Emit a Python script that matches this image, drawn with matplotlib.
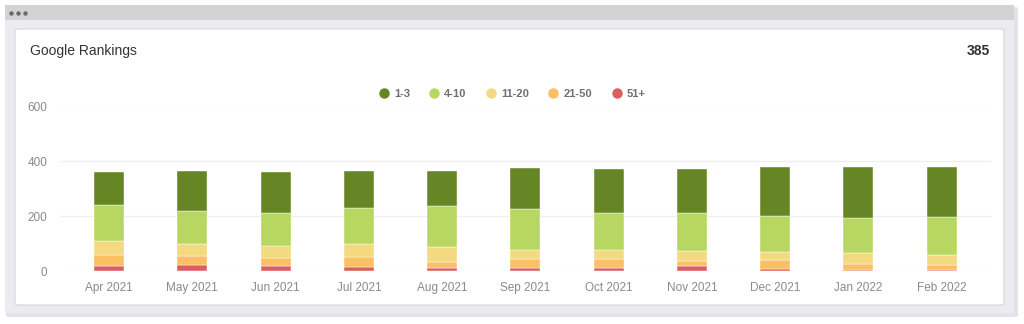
import matplotlib.pyplot as plt
from matplotlib.patches import FancyBboxPatch, Rectangle
from matplotlib.lines import Line2D
import numpy as np

# dados
meses = ['Apr 2021', 'May 2021', 'Jun 2021', 'Jul 2021', 'Aug 2021', 'Sep 2021',
         'Oct 2021', 'Nov 2021', 'Dec 2021', 'Jan 2022', 'Feb 2022']
faixas = ['1-3', '4-10', '11-20', '21-50', '51+']
r51 = [21, 23, 18, 16, 13, 13, 13, 19, 8, 6, 6]
r21_50 = [37, 33, 30, 36, 22, 31, 33, 20, 33, 19, 17]
r11_20 = [51, 42, 45, 49, 52, 35, 33, 36, 29, 40, 38]
r4_10 = [132, 123, 119, 129, 151, 148, 134, 138, 133, 128, 138]
r1_3 = [122, 145, 148, 135, 128, 149, 159, 159, 177, 186, 180]
total = 385

cores = ['#668625', '#b8d762', '#f3d97f', '#fbc064', '#da5f5f']

fig = plt.figure(figsize=(10.24, 3.24), dpi=100)
fig.patch.set_facecolor('white')

W, H = 1024, 324
def fx(x): return x / W
def fy(y): return 1 - y / H

# janela de fundo (sombra + corpo + barra de titulo)
fig.patches.append(FancyBboxPatch((fx(6), fy(317)), fx(1012), 310 / H,
                                  boxstyle='round,pad=0,rounding_size=0.004',
                                  transform=fig.transFigure, facecolor='#e2e3e7',
                                  edgecolor='none', zorder=0))
fig.patches.append(Rectangle((fx(5), fy(313)), fx(1009), 308 / H,
                             transform=fig.transFigure, facecolor='#ebecf0',
                             edgecolor='none', zorder=0))
fig.patches.append(Rectangle((fx(5), fy(20)), fx(1009), 15 / H,
                             transform=fig.transFigure, facecolor='#d3d3d3',
                             edgecolor='none', zorder=0))
# bolinhas da barra de titulo
fig.add_artist(Line2D([fx(11), fx(18), fx(25)], [fy(12.5)] * 3, transform=fig.transFigure,
                      linestyle='none', marker='o', markersize=3.2,
                      markerfacecolor='#6a6a6a', markeredgecolor='none'))
# cartao branco
fig.patches.append(FancyBboxPatch((fx(15), fy(305)), fx(989), 276 / H,
                                  boxstyle='round,pad=0,rounding_size=0.004',
                                  transform=fig.transFigure, facecolor='white',
                                  edgecolor='#d3d6dc', linewidth=0.8, zorder=1))

fig.text(fx(30), fy(51), 'Google Rankings', fontsize=10, color='#333333',
         family='Liberation Sans', va='center', ha='left')
fig.text(fx(990), fy(51), str(total), fontsize=10, color='#333333', weight='bold',
         family='Liberation Sans', va='center', ha='right')

ax = fig.add_axes([fx(60), fy(271.3), fx(930.7), 164.8 / H])
ax.set_zorder(2)
ax.patch.set_alpha(0)

x = np.arange(len(meses))
series = [r1_3, r4_10, r11_20, r21_50, r51]
# empilhar de baixo (51+) para cima (1-3)
base = np.zeros(len(meses))
for nome, vals, cor in reversed(list(zip(faixas, series, cores))):
    ax.bar(x, vals, width=0.36, bottom=base, color=cor, edgecolor='white',
           linewidth=0.3, zorder=3)
    base = base + np.array(vals)

ax.set_xlim(-0.59, 10.59)
ax.set_ylim(0, 600)
ax.set_yticks([0, 200, 400, 600])
ax.set_xticks(x)
ax.set_xticklabels(meses)
ax.grid(axis='y', color='#eeeeee', linewidth=0.9, zorder=0)
ax.set_axisbelow(True)
for s in ax.spines.values():
    s.set_visible(False)
ax.tick_params(length=0, labelsize=8.5, labelcolor='#8a8a8a', pad=8)
ax.tick_params(axis='y', pad=9)
for t in ax.get_xticklabels() + ax.get_yticklabels():
    t.set_family('Liberation Sans')

handles = [Line2D([], [], marker='o', linestyle='none', markersize=7.5,
                  markerfacecolor=c, markeredgecolor='none') for c in cores]
leg = ax.legend(handles, faixas, ncol=5, loc='lower center',
                bbox_to_anchor=(0.485, 0.985), frameon=False, handletextpad=0.3,
                handlelength=1.2, columnspacing=1.6,
                prop={'family': 'Liberation Sans', 'size': 8, 'weight': 'bold'})
for t in leg.get_texts():
    t.set_color('#707070')

plt.savefig('out.png', dpi=100)
